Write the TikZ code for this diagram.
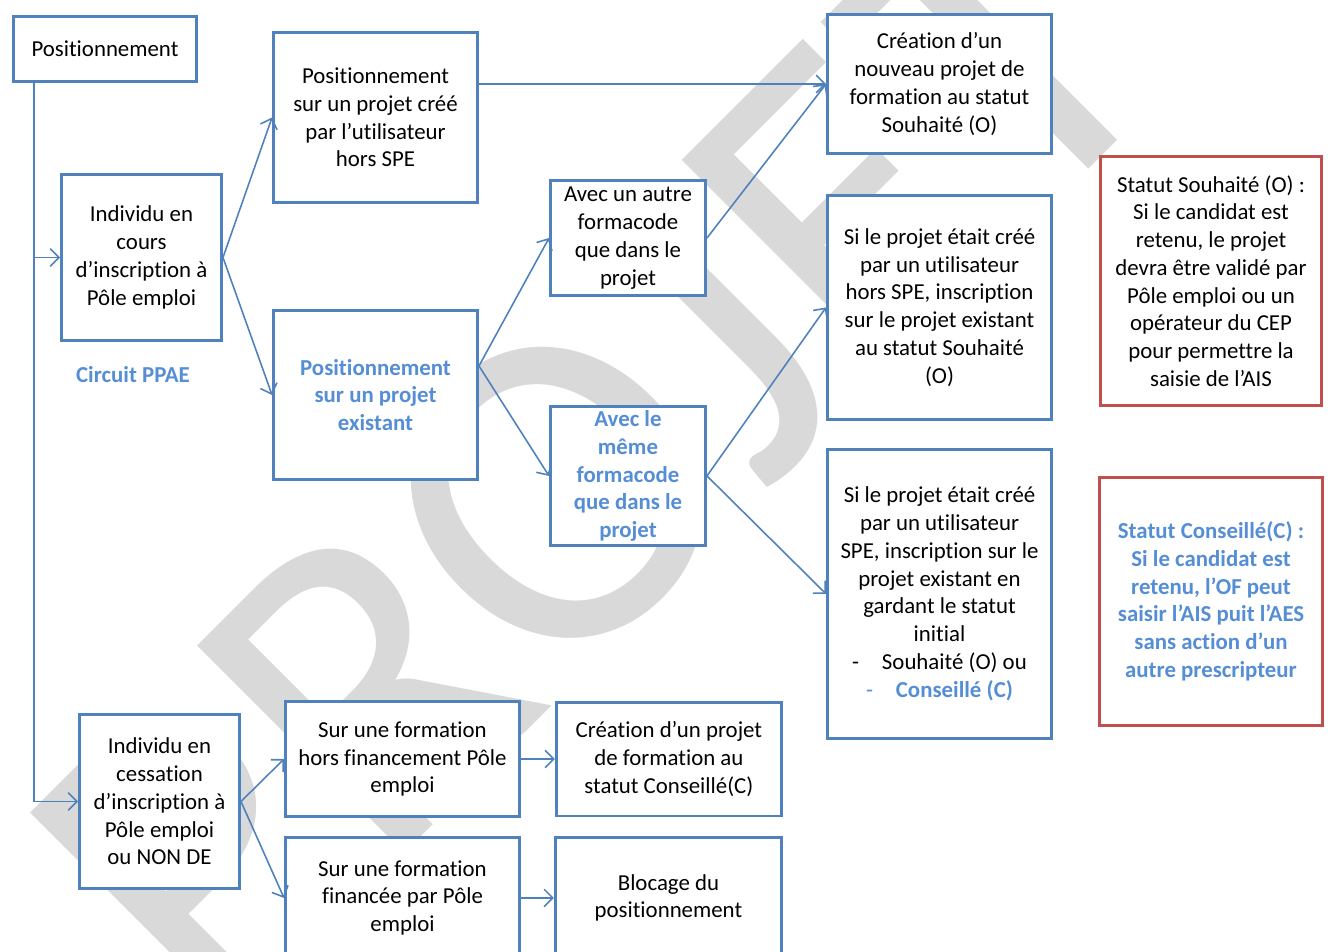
\documentclass[tikz,border=0pt]{standalone}
\usepackage{fontspec}
\setmainfont{Carlito}[Ligatures={TeX,NoCommon}]
\usetikzlibrary{arrows.meta, positioning}
\definecolor{boxblue}{RGB}{79,129,189}
\definecolor{alertred}{RGB}{192,80,77}
\definecolor{txtblue}{RGB}{85,142,213}
\definecolor{wmgray}{RGB}{217,217,217}

\begin{document}
\begin{tikzpicture}[x=0.02cm, y=-0.02cm,
    box/.style={draw=boxblue, line width=1.7pt, fill=white, align=center, inner sep=2pt, font=\fontsize{13}{15.8}\selectfont},
    redbox/.style={box, draw=alertred},
    hl/.style={text=txtblue, font=\fontsize{13}{15.8}\selectfont\bfseries},
    arr/.style={-{Straight Barb[length=5pt, width=10pt]}, draw=boxblue, line width=0.9pt},
]
\useasboundingbox (0,0) rectangle (1332,951);
\clip (0,0) rectangle (1332,951);

% filigrane
\node[rotate=45, text=wmgray, font=\fontsize{260}{260}\selectfont] (wm) at (594,456) {PROJET};

\node[box, minimum width=3.66cm, minimum height=1.30cm] (pos) at (105,49) {Positionnement};
\node[box, minimum width=3.20cm, minimum height=3.32cm] (ind1) at (141.5,257.5) {Individu en\\cours\\d’inscription à\\Pôle emploi};
\node[hl] (ppae) at (133,375) {Circuit PPAE};

\node[box, minimum width=4.08cm, minimum height=3.40cm] (projcree) at (375.5,117.5) {Positionnement\\sur un projet créé\\par l’utilisateur\\hors SPE};
\node[box, hl, minimum width=4.08cm, minimum height=3.38cm, below=2.1cm of projcree] (projexist) {Positionnement\\sur un projet\\existant};

\node[box, minimum width=3.10cm, minimum height=2.30cm] (autre) at (628,238) {Avec un autre\\formacode\\que dans le\\projet};
\node[box, hl, minimum width=3.10cm, minimum height=2.78cm, below=2.16cm of autre] (meme) {Avec le\\même\\formacode\\que dans le\\projet};

\node[box, minimum width=4.48cm, minimum height=2.78cm] (creation) at (939.5,84) {Création d’un\\nouveau projet de\\formation au statut\\Souhaité (O)};
\node[box, minimum width=4.48cm, minimum height=4.48cm, below=0.78cm of creation] (siO) {Si le projet était créé\\par un utilisateur\\hors SPE, inscription\\sur le projet existant\\au statut Souhaité\\(O)};
\node[box, minimum width=4.48cm, minimum height=5.78cm, below=0.54cm of siO] (siC) {Si le projet était créé\\par un utilisateur\\SPE, inscription sur le\\projet existant en\\gardant le statut\\initial\\-\quad Souhaité (O) ou\\\textcolor{txtblue}{-\quad\textbf{Conseillé (C)}}};

\node[redbox, minimum width=4.42cm, minimum height=4.98cm] (red1) at (1211,281) {Statut Souhaité (O) :\\Si le candidat est\\retenu, le projet\\devra être validé par\\Pôle emploi ou un\\opérateur du CEP\\pour permettre la\\saisie de l’AIS};
\node[redbox, hl, minimum width=4.46cm, minimum height=4.96cm, below=1.38cm of red1] (red2) {Statut Conseillé(C) :\\Si le candidat est\\retenu, l’OF peut\\saisir l’AIS puit l’AES\\sans action d’un\\autre prescripteur};

\node[box, minimum width=3.20cm, minimum height=3.48cm] (ind2) at (159.5,801.5) {Individu en\\cessation\\d’inscription à\\Pôle emploi\\ou NON DE};
\node[box, minimum width=4.68cm, minimum height=2.30cm] (surhors) at (402.5,759) {Sur une formation\\hors financement Pôle\\emploi};
\node[box, minimum width=4.50cm, minimum height=2.28cm, right=0.68cm of surhors] (creationC) {Création d’un projet\\de formation au\\statut Conseillé(C)};
\node[box, minimum width=4.68cm, minimum height=2.42cm, below=0.36cm of surhors] (surfin) {Sur une formation\\financée par Pôle\\emploi};
\node[box, minimum width=4.52cm, minimum height=2.42cm, right=0.66cm of surfin] (blocage) {Blocage du\\positionnement};

\coordinate (trunk) at ([xshift=0.44cm]pos.south west);
\draw[arr] (trunk) |- (ind2.west);
\draw[arr] (trunk |- ind1.west) -- (ind1.west);

\draw[arr] (ind1.east) -- (projcree.west);
\draw[arr] (ind1.east) -- (projexist.west);
\draw[arr] (projcree.east |- creation.west) -- (creation.west);
\draw[arr] ([yshift=0.58cm]projexist.east) -- (autre.west);
\draw[arr] ([yshift=0.58cm]projexist.east) -- (meme.west);
\draw[arr] (autre.east) -- (creation.west);
\draw[arr] (meme.east) -- (siO.west);
\draw[arr] (meme.east) -- (siC.west);

\draw[arr] (ind2.east) -- (surhors.west);
\draw[arr] (ind2.east) -- (surfin.west);
\draw[arr] (surhors) -- (creationC);
\draw[arr] (surfin) -- (blocage);

\end{tikzpicture}
\end{document}
